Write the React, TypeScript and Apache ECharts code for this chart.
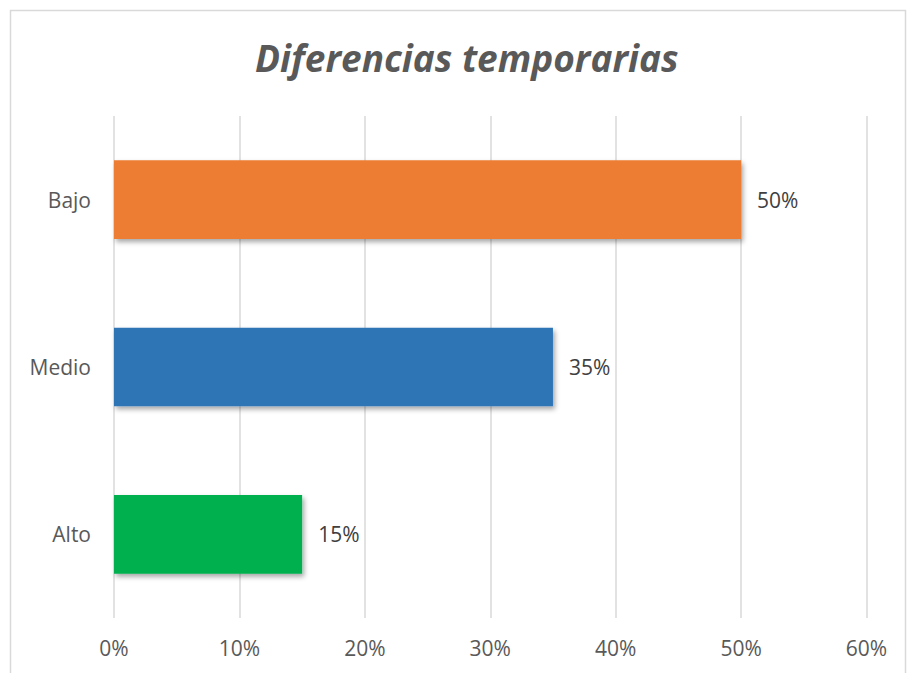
import React, { useEffect, useRef } from "react";
import * as echarts from "echarts";

const categories = ["Bajo", "Medio", "Alto"];
const values = [50, 35, 15];
const barColors = ["#ED7D31", "#2E75B6", "#00B050"];
const xTicks = [0, 10, 20, 30, 40, 50, 60];

const FONT = "Open Sans";

export default function App() {
  const ref = useRef<HTMLDivElement>(null);
  useEffect(() => {
    if (!ref.current) return;
    const chart = echarts.init(ref.current, null, { renderer: "svg" });
    chart.setOption({
      animation: false,
      backgroundColor: "#ffffff",
      title: {
        text: "Diferencias temporarias",
        left: 250,
        top: 34,
        textStyle: {
          fontFamily: FONT,
          fontSize: 37,
          fontWeight: "bold",
          fontStyle: "italic",
          color: "#595959",
        },
      },
      graphic: [
        {
          type: "rect",
          shape: { x: 10.5, y: 10.5, width: 895, height: 690 },
          style: { fill: "none", stroke: "#d9d9d9", lineWidth: 1.5 },
          silent: true,
          z: -1,
        },
      ],
      grid: { left: 114, right: 41.5, top: 116, bottom: 55, containLabel: false },
      xAxis: {
        type: "value",
        min: xTicks[0],
        max: xTicks[xTicks.length - 1],
        interval: 10,
        axisLine: { show: false },
        axisTick: { show: false },
        splitLine: { show: true, lineStyle: { color: "#d9d9d9", width: 1.5 } },
        axisLabel: {
          formatter: "{value}%",
          fontFamily: FONT,
          fontSize: 21,
          color: "#595959",
          margin: 19,
        },
      },
      yAxis: {
        type: "category",
        data: categories,
        inverse: true,
        axisLine: { show: false },
        axisTick: { show: false },
        axisLabel: {
          fontFamily: FONT,
          fontSize: 21,
          color: "#595959",
          margin: 23,
        },
      },
      series: [
        {
          type: "bar",
          data: values.map((v, i) => ({ value: v, itemStyle: { color: barColors[i] } })),
          barWidth: "47%",
          itemStyle: {
            shadowColor: "rgba(0,0,0,0.35)",
            shadowBlur: 5,
            shadowOffsetX: 2,
            shadowOffsetY: 3,
          },
          label: {
            show: true,
            position: "right",
            distance: 16,
            formatter: "{c}%",
            fontFamily: FONT,
            fontSize: 21,
            color: "#404040",
          },
        },
      ],
    });
    return () => chart.dispose();
  }, []);
  return (
    <div
      ref={ref}
      style={{ position: "fixed", left: 0, top: 0, width: 908, height: 673 }}
    />
  );
}
